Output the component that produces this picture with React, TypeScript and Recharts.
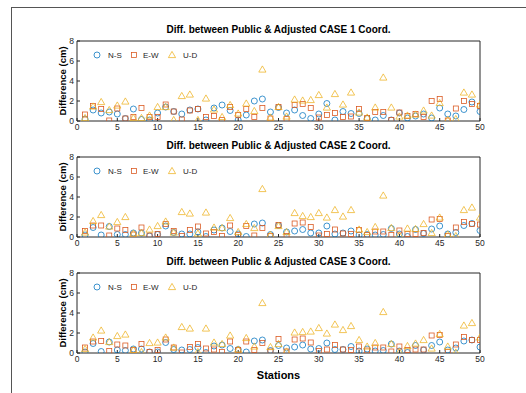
import React from 'react';
import { ScatterChart, Scatter, XAxis, YAxis, ReferenceLine } from 'recharts';

const stations = Array.from({ length: 50 }, (_, i) => i + 1);

const case1NS = [0.2,1.1,0.8,0.9,0.7,0.25,1.2,0.15,0.1,0.8,1.4,0.95,0.7,1.1,1.2,0.1,1.3,1.6,1.05,0.1,0.6,2.0,2.2,0.9,1.35,0.8,1.1,0.55,0.25,0.7,1.75,0.1,0.95,0.75,0.75,0.25,0.1,0.55,0.1,0.8,0.3,0.5,0.7,0.3,1.3,0.7,0.5,1.15,1.9,0.95];
const case1EW = [0.65,1.5,1.2,0.05,1.25,0.25,0.4,1.3,0.4,0.4,1.65,0.95,0.15,1.05,1.2,0.4,0.5,0.1,1.4,0.6,1.2,0.4,1.3,0.25,1.4,0.2,1.6,1.7,1.3,0.35,0.6,0.8,0.4,0.45,1.2,0.3,0.9,0.9,0.1,0.85,0.5,0.7,0.4,2.0,2.2,0.05,1.25,2.0,1.7,1.5];
const case1UD = [0.3,1.45,1.9,1.1,1.55,1.95,0.3,0.3,0.55,1.4,1.4,0.1,2.5,2.65,0.1,2.25,1.15,0.4,1.6,0.75,1.75,1.0,5.15,0.35,1.4,0.45,2.15,2.05,2.1,2.6,1.35,2.7,1.65,2.85,0.85,0.35,1.35,4.35,1.35,0.45,0.55,0.65,1.05,0.55,1.8,0.1,0.2,2.85,2.65,1.65];

const case2NS = [0.2,0.95,0.2,1.05,0.25,0.25,0.4,0.4,0.1,0.25,1.1,0.45,0.3,0.3,0.5,0.05,0.7,0.9,0.55,0.3,0.05,1.3,1.4,0.25,1.15,0.5,0.6,0.75,0.4,0.4,1.1,0.3,0.4,0.6,0.2,0.25,0.2,0.25,0.85,0.3,0.05,0.75,0.35,0.8,1.1,0.3,0.45,1.15,1.35,0.65];
const case2EW = [0.6,1.15,1.15,0.15,0.85,0.7,0.25,0.95,0.15,0.3,1.3,0.6,0.1,0.7,1.05,0.35,0.5,0.1,1.15,0.2,1.1,0.15,0.9,0.1,1.2,0.1,1.35,1.45,1.0,0.15,0.3,0.75,0.35,0.3,0.7,0.2,0.55,0.55,0.2,0.65,0.3,0.3,0.4,1.75,1.8,0.1,0.95,1.5,1.3,1.25];
const case2UD = [0.45,1.6,2.2,1.05,1.5,2.0,0.35,0.4,0.75,1.1,1.55,0.45,2.5,2.35,0.35,2.45,0.95,0.9,1.9,0.5,1.3,0.9,4.8,0.2,1.1,0.5,2.4,2.1,2.0,2.4,1.95,2.7,2.05,2.7,0.75,0.5,1.0,4.15,0.9,0.15,0.85,0.8,1.3,0.4,1.95,0.25,0.1,2.7,2.95,1.95];

const case3NS = [0.1,0.95,0.15,1.1,0.3,0.25,0.4,0.4,0.1,0.1,1.05,0.35,0.3,0.35,0.55,0.05,0.7,0.8,0.45,0.35,0.1,1.2,1.3,0.25,0.75,0.5,0.6,0.8,0.4,0.45,1.0,0.35,0.35,0.65,0.2,0.4,0.2,0.25,0.9,0.2,0.05,0.75,0.3,0.75,1.1,0.3,0.5,1.2,1.3,0.6];
const case3EW = [0.55,1.15,1.2,0.2,0.85,0.75,0.3,0.9,0.1,0.3,1.35,0.55,0.05,0.6,0.9,0.45,0.35,0.1,1.15,0.3,1.15,0.3,1.0,0.15,1.4,0.15,1.35,1.45,1.05,0.2,0.35,0.8,0.35,0.3,0.65,0.25,0.55,0.55,0.15,0.65,0.3,0.35,0.35,1.75,1.8,0.1,0.85,1.6,1.3,1.3];
const case3UD = [0.4,1.55,2.25,1.1,1.7,1.85,0.3,0.1,1.0,1.05,1.55,0.55,2.6,2.45,0.1,2.45,1.05,0.9,1.75,0.35,1.5,0.65,5.0,0.6,0.9,0.15,2.05,2.1,2.15,2.5,1.95,2.85,2.3,2.7,1.3,0.65,1.0,4.1,0.9,0.1,0.7,0.95,1.3,0.45,1.9,0.65,0.05,2.75,3.0,1.55];

const xTicks = [0, 5, 10, 15, 20, 25, 30, 35, 40, 45, 50];
const yTicks = [0, 2, 4, 6, 8];
const seriesNames = ['N-S', 'E-W', 'U-D'];
const titles = [
  'Diff. between Public & Adjusted CASE 1 Coord.',
  'Diff. between Public & Adjusted CASE 2 Coord.',
  'Diff. between Public & Adjusted CASE 3 Coord.',
];
const cases = [
  [case1NS, case1EW, case1UD],
  [case2NS, case2EW, case2UD],
  [case3NS, case3EW, case3UD],
];

const COLORS = ['#0072BD', '#D95319', '#EDB120'];
const FONT = '"Liberation Sans", Arial, Helvetica, sans-serif';
const AXIS = '#262626';
const SW = 0.75;

const toPoints = (vals: number[]) => stations.map((s, i) => ({ x: s, y: vals[i] }));

const Circle = (p: any) => (
  <circle cx={p.cx} cy={p.cy} r={3} fill="none" stroke={COLORS[0]} strokeWidth={SW} />
);
const Square = (p: any) => (
  <rect x={p.cx - 2.5} y={p.cy - 2.5} width={5} height={5} fill="none" stroke={COLORS[1]} strokeWidth={SW} />
);
const Triangle = (p: any) => (
  <polygon
    points={`${p.cx},${p.cy - 3.6} ${p.cx - 3.6},${p.cy + 2.6} ${p.cx + 3.6},${p.cy + 2.6}`}
    fill="none"
    stroke={COLORS[2]}
    strokeWidth={SW}
  />
);
const shapes = [Circle, Square, Triangle];

const tickStyle = { fontSize: 8.5, fill: AXIS, fontFamily: FONT };

function Panel({ idx }: { idx: number }) {
  const top = 116 * idx;
  const data = cases[idx];
  return (
    <div style={{ position: 'absolute', left: 0, top }}>
      <ScatterChart width={526} height={140} margin={{ top: 41, right: 46, left: 50, bottom: 0 }}>
        <XAxis
          type="number"
          dataKey="x"
          domain={[0, 50]}
          ticks={xTicks}
          allowDataOverflow
          height={19}
          tickSize={-3}
          tickMargin={6}
          stroke={AXIS}
          tick={tickStyle}
          interval={0}
        />
        <XAxis
          xAxisId="top"
          orientation="top"
          type="number"
          dataKey="x"
          domain={[0, 50]}
          ticks={xTicks}
          height={0}
          tickSize={-3}
          stroke={AXIS}
          tickFormatter={() => ''}
          interval={0}
        />
        <YAxis
          type="number"
          dataKey="y"
          domain={[0, 8]}
          ticks={yTicks}
          allowDataOverflow
          width={27}
          tickSize={-3}
          tickMargin={6}
          stroke={AXIS}
          tick={tickStyle}
          interval={0}
        />
        <YAxis
          yAxisId="right"
          orientation="right"
          type="number"
          dataKey="y"
          domain={[0, 8]}
          ticks={yTicks}
          width={0}
          tickSize={-3}
          stroke={AXIS}
          tickFormatter={() => ''}
          interval={0}
        />
        <ReferenceLine y={8} stroke={AXIS} strokeWidth={1} ifOverflow="extendDomain" />
        <ReferenceLine x={50} stroke={AXIS} strokeWidth={1} ifOverflow="extendDomain" />
        {data.map((vals, k) => (
          <Scatter
            key={seriesNames[k]}
            name={seriesNames[k]}
            data={toPoints(vals)}
            shape={shapes[k]}
            isAnimationActive={false}
          />
        ))}
      </ScatterChart>
      <div
        style={{
          position: 'absolute',
          left: 77,
          width: 403,
          top: 24,
          textAlign: 'center',
          fontFamily: FONT,
          fontWeight: 'bold',
          fontSize: 10,
          color: '#000',
          whiteSpace: 'nowrap',
        }}
      >
        {titles[idx]}
      </div>
      <div
        style={{
          position: 'absolute',
          left: 62,
          top: 81,
          transform: 'translate(-50%, -50%) rotate(-90deg)',
          fontFamily: FONT,
          fontWeight: 'bold',
          fontSize: 9.5,
          color: '#000',
          whiteSpace: 'nowrap',
        }}
      >
        Difference (cm)
      </div>
      <div style={{ position: 'absolute', left: 92, top: 49, height: 12, fontFamily: FONT, fontSize: 8, color: AXIS }}>
        <svg width={110} height={12} style={{ position: 'absolute', left: 0, top: 0 }}>
          <circle cx={5} cy={6} r={3} fill="none" stroke={COLORS[0]} strokeWidth={SW} />
          <rect x={39.5} y={3.5} width={5} height={5} fill="none" stroke={COLORS[1]} strokeWidth={SW} />
          <polygon points="80,2.4 76.4,8.6 83.6,8.6" fill="none" stroke={COLORS[2]} strokeWidth={SW} />
          <text x={16} y={9} fontSize={8} fill={AXIS} fontFamily={FONT}>N-S</text>
          <text x={51} y={9} fontSize={8} fill={AXIS} fontFamily={FONT}>E-W</text>
          <text x={91} y={9} fontSize={8} fill={AXIS} fontFamily={FONT}>U-D</text>
        </svg>
      </div>
    </div>
  );
}

export default function App() {
  return (
    <div style={{ position: 'absolute', left: 0, top: 0, width: 526, height: 393, background: '#fff', overflow: 'hidden' }}>
      <div style={{ position: 'absolute', left: 11, top: 7, width: 515, height: 1, background: '#555' }} />
      <div style={{ position: 'absolute', left: 11, top: 7, width: 1, height: 386, background: '#555' }} />
      <Panel idx={0} />
      <Panel idx={1} />
      <Panel idx={2} />
      <div
        style={{
          position: 'absolute',
          left: 77,
          width: 403,
          top: 369,
          textAlign: 'center',
          fontFamily: FONT,
          fontWeight: 'bold',
          fontSize: 11,
          color: '#000',
        }}
      >
        Stations
      </div>
    </div>
  );
}
